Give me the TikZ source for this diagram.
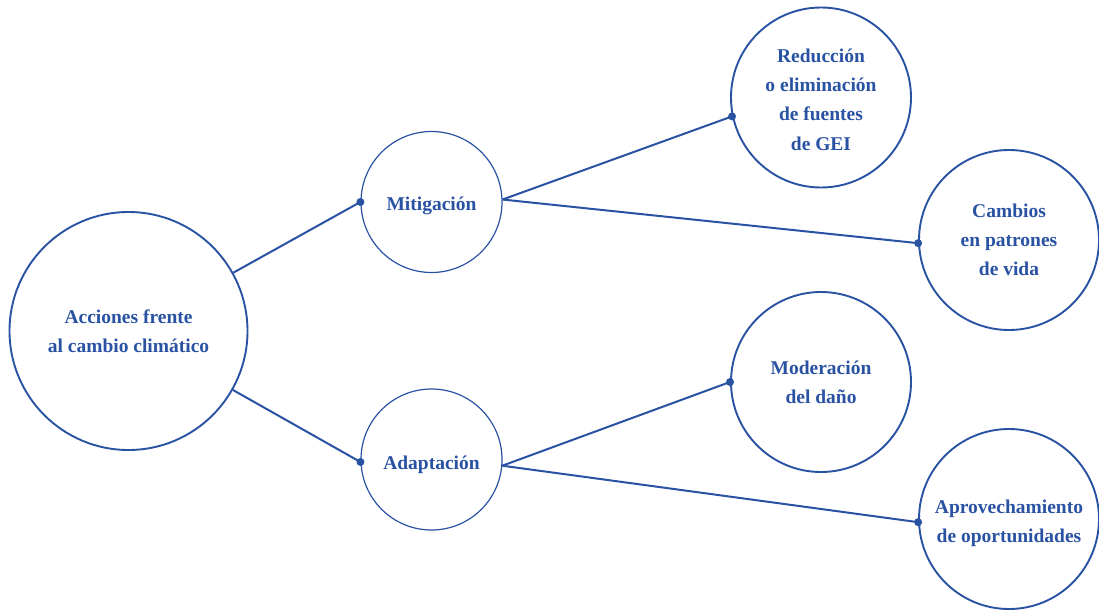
\documentclass[tikz,border=0pt]{standalone}
\usepackage{fontspec}
\setmainfont{Liberation Serif}
\definecolor{cblue}{RGB}{41,82,163}
\begin{document}
\begin{tikzpicture}[x=1pt,y=-1pt,
  txt/.style={inner sep=0pt,align=center,text=cblue,font=\fontsize{19.5}{29.3}\selectfont\bfseries},
  bub/.style={txt,circle,draw=cblue,line width=1.9pt},
  smallbub/.style={bub,line width=1.2pt},
  conn/.style={draw=cblue,line width=2pt},
  dotmark/.style={circle,fill=cblue,inner sep=0pt,minimum size=8pt}]
\useasboundingbox (0,0) rectangle (1099,610);
\node[bub,minimum size=238pt] (acc) at (128.5,331) {Acciones frente\\al cambio climático};
\node[smallbub,minimum size=141pt] (mit) at (431.5,202) {\raisebox{-8pt}[0pt][0pt]{Mitigación}};
\node[smallbub,minimum size=141pt] (ada) at (431.5,459.5) {\raisebox{-10pt}[0pt][0pt]{Adaptación}};
\node[bub,minimum size=180pt] (red) at (821,97.5) {};
\node[txt] (redt) at (821,99.5) {Reducción\\o eliminación\\de fuentes\\de GEI};
\node[bub,minimum size=180pt] (cam) at (1009,240) {Cambios\\en patrones\\de vida};
\node[bub,minimum size=180pt] (mod) at (821,382) {Moderación\\del daño};
\node[bub,minimum size=180pt] (apr) at (1009,519) {};
\node[txt] (aprt) at (1009,523.5) {Aprovechamiento\\de oportunidades};
\draw[conn] (acc) -- (mit.west);
\draw[conn] (acc) -- (ada.182);
\draw[conn] (mit.2) -- (red.192);
\draw[conn] (mit.2) -- (cam.182.5);
\draw[conn] (ada.355) -- (mod.west);
\draw[conn] (ada.355) -- (apr.182.5);
\node[dotmark] (d1) at (mit.west) {};
\node[dotmark] (d2) at (ada.182) {};
\node[dotmark] (d3) at (red.192) {};
\node[dotmark] (d4) at (cam.182.5) {};
\node[dotmark] (d5) at (mod.west) {};
\node[dotmark] (d6) at (apr.182.5) {};
\end{tikzpicture}
\end{document}
